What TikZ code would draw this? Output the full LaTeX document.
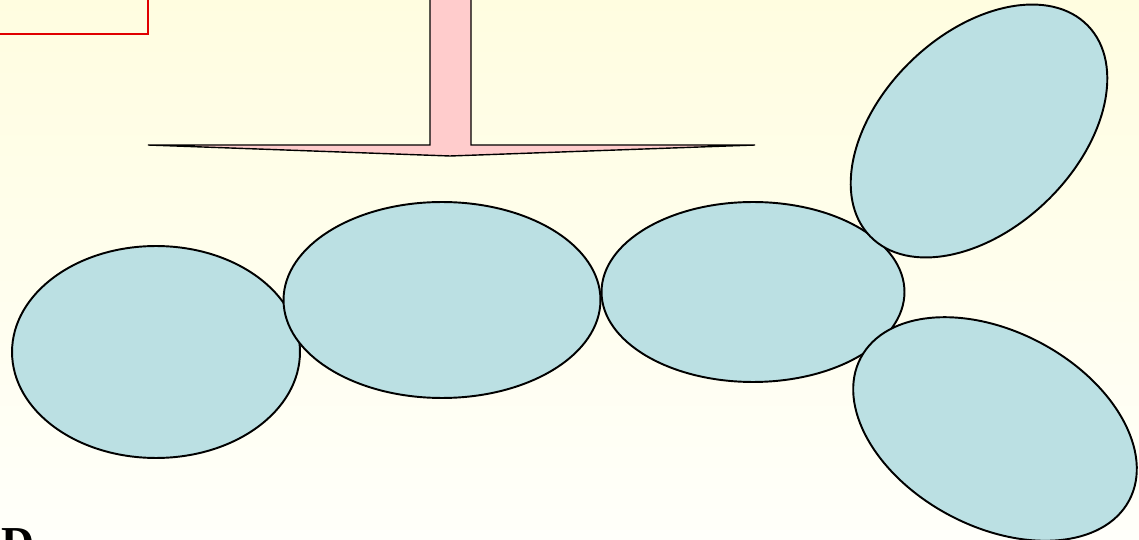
\documentclass[tikz,border=0pt]{standalone}
\usepackage{fontspec}
\setmainfont{Liberation Serif}
\usetikzlibrary{shapes.geometric}
\definecolor{cellblue}{RGB}{187,224,227}
\definecolor{arrowpink}{RGB}{255,204,204}
\definecolor{bgtop}{RGB}{255,253,224}
\definecolor{bgbottom}{RGB}{255,255,250}
\definecolor{boxred}{RGB}{224,0,0}
\tikzset{
  cell/.style={ellipse, draw=black, line width=1.1pt, fill=cellblue, inner sep=0pt},
}
\begin{document}
\begin{tikzpicture}[x=0.02cm, y=-0.02cm]
 \useasboundingbox (0,0) rectangle (1139,540);
 \clip (0,0) rectangle (1139,540);
 \shade[top color=bgtop, bottom color=bgbottom] (0,0) rectangle (1139,540);
 % frame at top left
 \draw[boxred, line width=1.1pt] (-10,-10) rectangle (148,34);
 % downward arrow
 \draw[fill=arrowpink, line width=0.8pt, line join=miter]
   (430,-10) -- (430,145) -- (148,145) -- (450,156) -- (755,145)
   -- (471,145) -- (471,-10);
 % cells
 \node[cell, minimum width=5.76cm, minimum height=4.24cm] (c1) at (156,352) {};
 \node[cell, minimum width=6.34cm, minimum height=3.92cm] (c2) at (442,300) {};
 \node[cell, minimum width=6.06cm, minimum height=3.6cm] (c3) at (753,292) {};
 \node[cell, minimum width=6.06cm, minimum height=3.9cm, rotate=44] (c4) at (979,131) {};
 \node[cell, minimum width=6.08cm, minimum height=3.9cm, rotate=-28] (c5) at (995,429) {};
 \node[anchor=north west, inner sep=0pt, font=\bfseries\fontsize{26}{30}\selectfont] (lbl) at (1,528) {D};
\end{tikzpicture}
\end{document}
